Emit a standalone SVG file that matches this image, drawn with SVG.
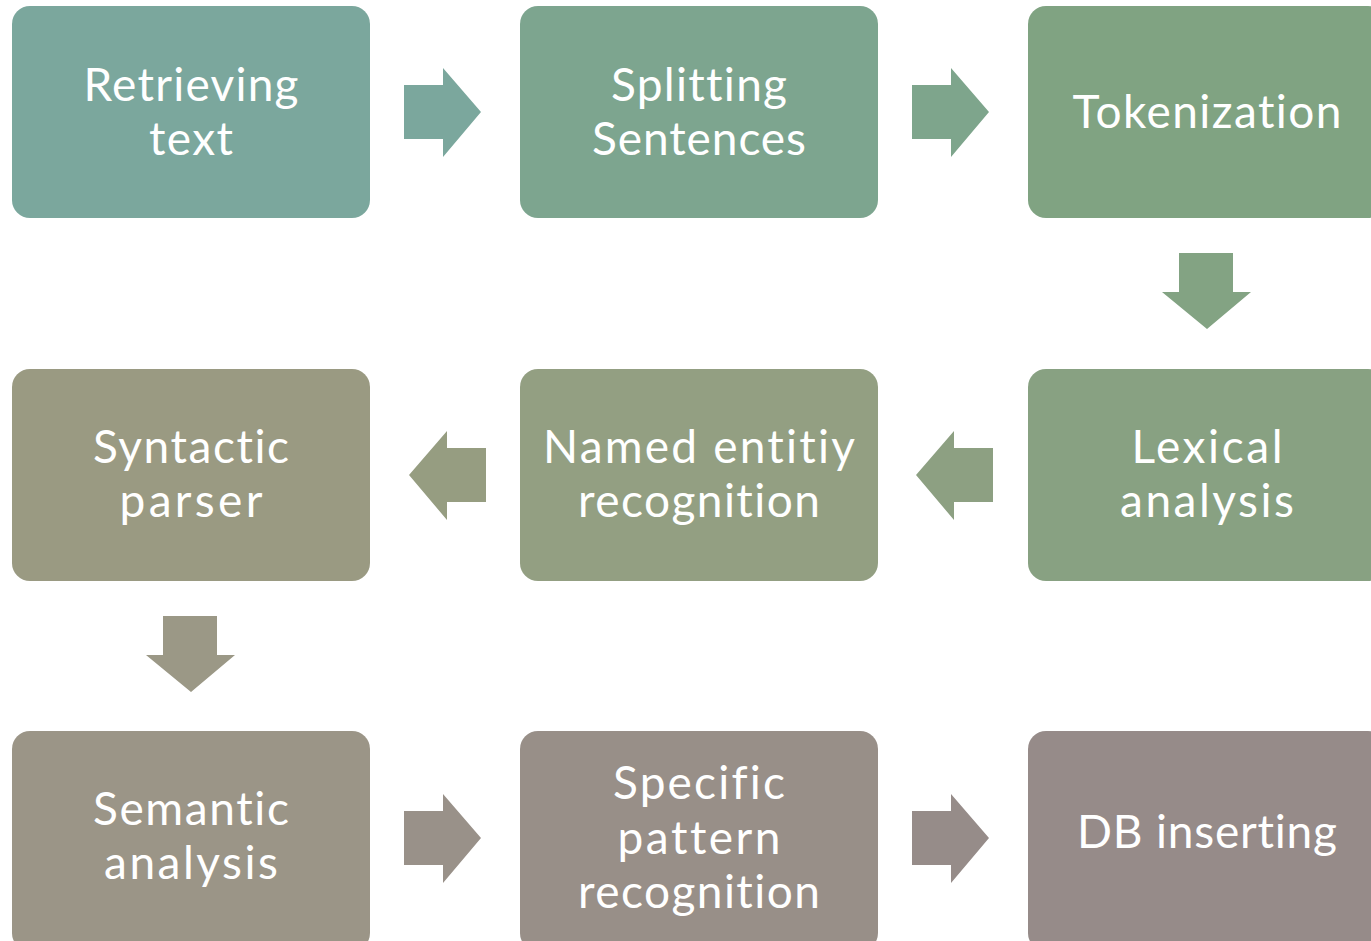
<svg xmlns="http://www.w3.org/2000/svg" width="1371" height="941" viewBox="0 0 1371 941">
  <style>
    .box { stroke: none; }
    .lbl { font-family: Lato, "Open Sans", "Liberation Sans", sans-serif; font-size: 46px; fill: #ffffff; text-anchor: middle; font-variant-ligatures: none; font-feature-settings: "liga" 0, "clig" 0; }
  </style>
  <defs>
    <!-- block arrow shapes, drawn at origin -->
    <path id="arrowRight" d="M0,17 H39 V0 L77,44 L39,89 V71 H0 Z"/>
    <path id="arrowLeft" d="M77,17 H38 V0 L0,44 L38,89 V71 H77 Z"/>
    <path id="arrowDown" d="M17,0 H71 V39 H89 L45,76 L0,39 H17 Z"/>
  </defs>
  <rect width="1371" height="941" fill="#ffffff"/>

  <g id="connectors">
    <use href="#arrowRight" x="404" y="68" fill="#7BA79D"/>
    <use href="#arrowRight" x="912" y="68" fill="#7EA58C"/>
    <use href="#arrowDown" x="1162" y="253" fill="#83A383"/>
    <use href="#arrowLeft" x="916" y="431" fill="#8DA082"/>
    <use href="#arrowLeft" x="409" y="431" fill="#969D81"/>
    <use href="#arrowDown" x="146" y="616" fill="#9B9886"/>
    <use href="#arrowRight" x="404" y="794" fill="#999189"/>
    <use href="#arrowRight" x="912" y="794" fill="#968C89"/>
  </g>

  <g id="node-retrieving">
    <rect class="box" x="12" y="6" width="358" height="212" rx="18" fill="#7BA79D"/>
    <text class="lbl" x="191" y="101" textLength="215" lengthAdjust="spacing">Retrieving</text>
    <text class="lbl" x="191" y="155" textLength="84" lengthAdjust="spacing">text</text>
  </g>
  <g id="node-splitting">
    <rect class="box" x="520" y="6" width="358" height="212" rx="18" fill="#7DA58F"/>
    <text class="lbl" x="699" y="101" textLength="176" lengthAdjust="spacing">Splitting</text>
    <text class="lbl" x="699" y="155" textLength="214" lengthAdjust="spacing">Sentences</text>
  </g>
  <g id="node-tokenization">
    <rect class="box" x="1028" y="6" width="358" height="212" rx="18" fill="#80A382"/>
    <text class="lbl" x="1207" y="128" textLength="269" lengthAdjust="spacing">Tokenization</text>
  </g>
  <g id="node-lexical">
    <rect class="box" x="1028" y="369" width="358" height="212" rx="18" fill="#88A182"/>
    <text class="lbl" x="1207" y="463" textLength="151" lengthAdjust="spacing">Lexical</text>
    <text class="lbl" x="1207" y="517" textLength="174" lengthAdjust="spacing">analysis</text>
  </g>
  <g id="node-named-entity">
    <rect class="box" x="520" y="369" width="358" height="212" rx="18" fill="#939F82"/>
    <text class="lbl" x="699" y="463" textLength="312" lengthAdjust="spacing">Named entitiy</text>
    <text class="lbl" x="699" y="517" textLength="242" lengthAdjust="spacing">recognition</text>
  </g>
  <g id="node-syntactic">
    <rect class="box" x="12" y="369" width="358" height="212" rx="18" fill="#9A9A82"/>
    <text class="lbl" x="191" y="463" textLength="196" lengthAdjust="spacing">Syntactic</text>
    <text class="lbl" x="191" y="517" textLength="143" lengthAdjust="spacing">parser</text>
  </g>
  <g id="node-semantic">
    <rect class="box" x="12" y="731" width="358" height="220" rx="18" fill="#9B9587"/>
    <text class="lbl" x="191" y="825" textLength="196" lengthAdjust="spacing">Semantic</text>
    <text class="lbl" x="191" y="879" textLength="174" lengthAdjust="spacing">analysis</text>
  </g>
  <g id="node-specific-pattern">
    <rect class="box" x="520" y="731" width="358" height="220" rx="18" fill="#988F88"/>
    <text class="lbl" x="699" y="799" textLength="172" lengthAdjust="spacing">Specific</text>
    <text class="lbl" x="699" y="854" textLength="163" lengthAdjust="spacing">pattern</text>
    <text class="lbl" x="699" y="908" textLength="242" lengthAdjust="spacing">recognition</text>
  </g>
  <g id="node-db-inserting">
    <rect class="box" x="1028" y="731" width="358" height="220" rx="18" fill="#968B89"/>
    <text class="lbl" x="1207" y="848" textLength="260" lengthAdjust="spacing">DB inserting</text>
  </g>
</svg>
